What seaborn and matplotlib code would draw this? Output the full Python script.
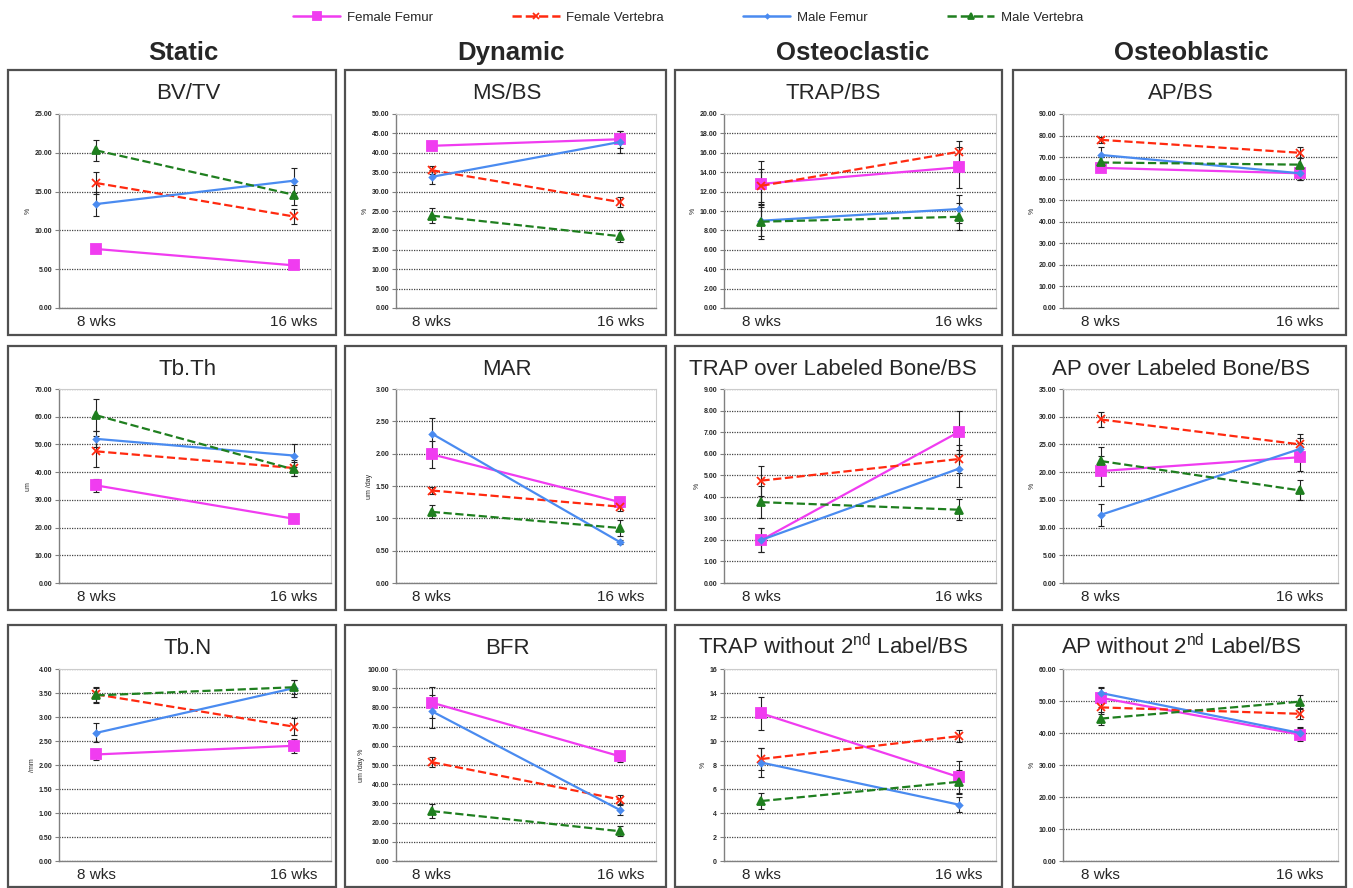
import numpy as np
import pandas as pd
import matplotlib
matplotlib.use("Agg")
import matplotlib.pyplot as plt
from matplotlib.patches import Rectangle
from matplotlib.lines import Line2D
import seaborn as sns

# === данные ===
weeks = ["8 wks", "16 wks"]
columns = ["Static", "Dynamic", "Osteoclastic", "Osteoblastic"]

titles = ["BV/TV", "MS/BS", "TRAP/BS", "AP/BS",
          "Tb.Th", "MAR", "TRAP over Labeled Bone/BS", "AP over Labeled Bone/BS",
          "Tb.N", "BFR", r"TRAP without 2$^{\mathrm{nd}}$ Label/BS", r"AP without 2$^{\mathrm{nd}}$ Label/BS"]
ylabels = ["%", "%", "%", "%", "um", "um /day", "%", "%", "/mm", "um /day %", "%", "%"]
ymax = [25, 50, 20, 90, 70, 3, 9, 35, 4, 100, 16, 60]
ystep = [5, 5, 2, 10, 10, 0.5, 1, 5, 0.5, 10, 2, 10]
ydec = [2, 2, 2, 2, 2, 2, 2, 2, 2, 2, 0, 2]

series = ["Female Femur", "Female Vertebra", "Male Femur", "Male Vertebra"]

female_femur = [[7.6, 5.5], [41.8, 43.5], [12.8, 14.5], [65.0, 62.5],
                [35.2, 23.2], [1.99, 1.25], [2.0, 7.0], [20.2, 22.7],
                [2.22, 2.40], [82.5, 54.5], [12.3, 7.0], [51.0, 39.5]]
female_femur_err = [[0.3, 0.3], [1.0, 2.2], [2.4, 2.1], [2.0, 3.0],
                    [2.5, 1.2], [0.21, 0.07], [0.55, 1.0], [2.7, 2.5],
                    [0.12, 0.14], [8.0, 3.0], [1.4, 1.3], [3.0, 2.0]]

female_vertebra = [[16.1, 11.8], [35.5, 27.3], [12.6, 16.1], [78.0, 72.0],
                   [47.5, 41.5], [1.43, 1.18], [4.75, 5.75], [29.5, 25.0],
                   [3.47, 2.80], [51.5, 32.0], [8.5, 10.4], [48.0, 46.0]]
female_vertebra_err = [[1.4, 1.0], [1.0, 1.3], [1.7, 1.1], [1.5, 2.5],
                       [5.5, 3.0], [0.05, 0.06], [0.7, 0.65], [1.3, 1.8],
                       [0.15, 0.18], [2.5, 2.5], [0.9, 0.5], [2.0, 1.5]]

male_femur = [[13.4, 16.4], [33.8, 42.8], [9.0, 10.2], [71.0, 62.5],
              [52.0, 46.0], [2.31, 0.63], [2.0, 5.3], [12.3, 24.2],
              [2.67, 3.60], [78.0, 26.5], [8.2, 4.7], [52.5, 40.0]]
male_femur_err = [[1.5, 1.6], [1.8, 2.8], [1.6, 1.4], [3.5, 3.0],
                  [3.0, 4.0], [0.24, 0.03], [0.55, 0.85], [2.0, 2.0],
                  [0.2, 0.18], [8.5, 2.5], [1.2, 0.6], [2.0, 2.0]]

male_vertebra = [[20.3, 14.6], [23.8, 18.5], [8.9, 9.4], [67.5, 66.5],
                 [60.5, 41.0], [1.10, 0.85], [3.75, 3.4], [22.0, 16.7],
                 [3.45, 3.62], [26.0, 15.5], [5.0, 6.6], [44.5, 49.8]]
male_vertebra_err = [[1.3, 1.3], [2.0, 1.5], [1.8, 1.4], [2.5, 3.0],
                     [5.8, 2.5], [0.1, 0.13], [0.75, 0.5], [2.5, 1.8],
                     [0.15, 0.15], [3.5, 2.5], [0.7, 1.0], [2.0, 2.0]]

values = [female_femur, female_vertebra, male_femur, male_vertebra]
errors = [female_femur_err, female_vertebra_err, male_femur_err, male_vertebra_err]

# === стиль ===
colors = ["#F03CF0", "#FF2A10", "#4A8BF0", "#1F7F1F"]
markers = ["s", "x", "D", "^"]
msizes = [7, 6, 3, 6]
dashed = [False, True, False, True]

W, H = 1353, 888
col_box = [(8, 336), (345, 666), (675, 1002), (1013, 1346)]
row_box = [(70, 335), (346, 610), (625, 887)]
col_ax = [(59, 331), (396, 656), (724, 996), (1063, 1338)]
row_ax = [(114, 308), (389, 583), (669, 861)]
header_x = [183, 511, 853, 1191]
title_x = [188, 507, 833, 1181]

sns.set_theme(style="white")
plt.rcParams['font.family'] = ['Liberation Sans', 'DejaVu Sans']
plt.rcParams['mathtext.fontset'] = 'custom'
plt.rcParams['mathtext.rm'] = 'Liberation Sans'

fig = plt.figure(figsize=(W / 100, H / 100), dpi=100)
fig.patch.set_facecolor("white")


def fx(px):
    return px / W


def fy(py):
    return 1 - py / H


for r in range(3):
    for c in range(4):
        i = r * 4 + c
        bx0, bx1 = col_box[c]
        by0, by1 = row_box[r]
        fig.patches.append(Rectangle((fx(bx0), fy(by1)), fx(bx1 - bx0), (by1 - by0) / H,
                                     transform=fig.transFigure, fill=False,
                                     edgecolor="#505050", linewidth=1.6, zorder=0))
        ax0, ax1 = col_ax[c]
        ay0, ay1 = row_ax[r]
        ax = fig.add_axes([fx(ax0), fy(ay1), fx(ax1 - ax0), (ay1 - ay0) / H])

        for s in range(4):
            df = pd.DataFrame({"t": [0, 1], "val": values[s][i]})
            sns.lineplot(data=df, x="t", y="val", ax=ax, color=colors[s],
                         marker=markers[s], markersize=msizes[s],
                         markeredgecolor=colors[s], markeredgewidth=1.3,
                         linewidth=1.6, linestyle="--" if dashed[s] else "-",
                         dashes=(6, 3.5) if dashed[s] else (None, None),
                         zorder=3)
            ax.errorbar([0, 1], values[s][i], yerr=errors[s][i], fmt="none",
                        ecolor="#222222", elinewidth=0.8, capsize=2, capthick=0.8, zorder=2)

        ax.set_xlim(-0.19, 1.19)
        ax.set_ylim(0, ymax[i])
        ticks = np.arange(0, ymax[i] + ystep[i] / 2, ystep[i])
        ax.set_yticks(ticks)
        ax.set_yticklabels([f"{t:.{ydec[i]}f}" for t in ticks], fontsize=5, fontweight="bold")
        ax.set_xticks([0, 1])
        ax.set_xticklabels(weeks, fontsize=11)
        ax.set_xticks([-0.19, 0.5, 1.19], minor=True)
        ax.tick_params(axis="x", which="major", length=0, pad=5)
        ax.tick_params(axis="x", which="minor", length=3, width=0.8, color="#808080", direction="out")
        ax.tick_params(axis="y", length=3, width=0.8, color="#808080", direction="out", pad=2, left=True)
        ax.yaxis.grid(True, linestyle=(0, (1, 1)), color="#444444", linewidth=0.9)
        ax.xaxis.grid(False)
        ax.set_axisbelow(True)
        ax.set_xlabel("")
        ax.set_ylabel(ylabels[i], fontsize=5, labelpad=2)
        for side in ["left", "bottom"]:
            ax.spines[side].set_color("#808080")
            ax.spines[side].set_linewidth(1)
        for side in ["top", "right"]:
            ax.spines[side].set_color("#cccccc")
            ax.spines[side].set_linewidth(0.8)
        if ax.get_legend():
            ax.get_legend().remove()

        # заголовок панели
        fig.text(fx(title_x[c]), fy(by0 + 29), titles[i], ha="center", va="baseline",
                 fontsize=16)

for c, name in enumerate(columns):
    fig.text(fx(header_x[c]), fy(60), name, ha="center", va="baseline",
             fontsize=18.5, fontweight="bold")

handles = [Line2D([], [], color=colors[s], marker=markers[s], markersize=msizes[s] - 1,
                  markeredgewidth=1.3, linewidth=1.8,
                  linestyle="--" if dashed[s] else "-") for s in range(4)]
fig.legend(handles, series, loc="center", bbox_to_anchor=(fx(688), fy(18)), ncol=4,
           frameon=False, fontsize=9.5, handlelength=3.6, columnspacing=6.0, handletextpad=0.5)

fig.savefig("out.png", dpi=100, facecolor="white")
